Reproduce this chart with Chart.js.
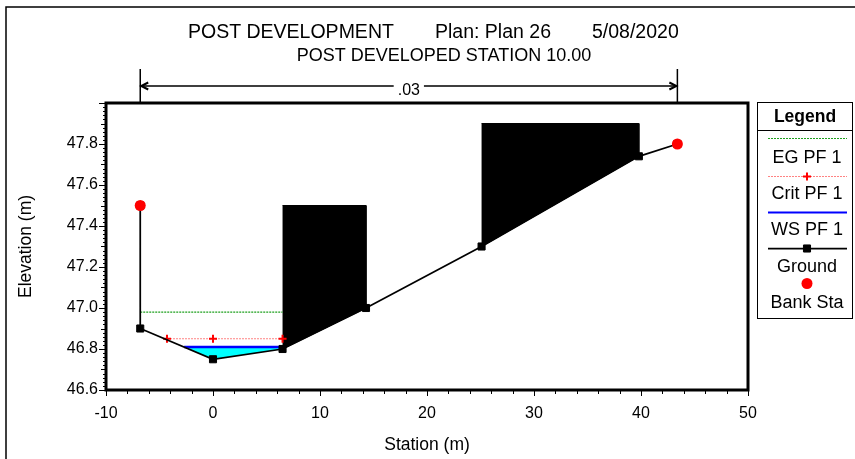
<!DOCTYPE html>
<html>
<head>
<meta charset="utf-8">
<script src="https://cdn.jsdelivr.net/npm/chart.js@4/dist/chart.umd.min.js"></script>
<style>
  html, body { margin: 0; padding: 0; background: #fff; }
  canvas { display: block; }
</style>
</head>
<body>
<canvas id="xs" width="855" height="459"></canvas>
<script>
// Ground profile of the cross section (station m, elevation m)
const groundStation = [-6.8, -6.8, 0, 6.5, 14.3, 25.1, 39.8, 43.4];
const groundElev    = [47.5, 46.9, 46.75, 46.8, 47.0, 47.3, 47.74, 47.8];

// Bank stations
const bankStation = [-6.8, 43.4];
const bankElev    = [47.5, 47.8];

// Blocked obstructions: start / end station and top elevation
const blockStart = [6.5, 25.1];
const blockEnd   = [14.3, 39.8];
const blockTop   = [47.5, 47.9];

// Profile PF 1 results
const wsStation   = [-2.7, 6.5];
const wsElev      = [46.81, 46.81];
const critStation = [-4.3, 0, 6.5];
const critElev    = [46.85, 46.85, 46.85];
const egStation   = [-6.8, 6.5];
const egElev      = [46.98, 46.98];

// Manning's n across the section
const nValue = '.03';

// Axis ranges and tick labels
const xMin = -10, xMax = 50, xStep = 10;
const yMin = 46.6, yMax = 48.0, yStep = 0.2;

const FONT = '"Liberation Sans", Arial, sans-serif';
const pts = (xs, ys) => xs.map((x, i) => ({ x, y: ys[i] }));

// ground elevation at a station (linear between surveyed points)
function groundAt(s) {
  for (let i = groundStation.length - 1; i > 0; i--) {
    const s0 = groundStation[i - 1], s1 = groundStation[i];
    if (s >= s0 && s <= s1 && s1 > s0) {
      const t = (s - s0) / (s1 - s0);
      return groundElev[i - 1] + t * (groundElev[i] - groundElev[i - 1]);
    }
  }
  return groundElev[0];
}

// closed outline: a top line from s0 to s1, back along the ground
function overGround(topXs, topYs) {
  const s0 = topXs[0], s1 = topXs[topXs.length - 1];
  const poly = pts(topXs, topYs);
  poly.push({ x: s1, y: groundAt(s1) });
  for (let i = groundStation.length - 1; i >= 0; i--) {
    if (groundStation[i] > s0 && groundStation[i] < s1) {
      poly.push({ x: groundStation[i], y: groundElev[i] });
    }
  }
  poly.push({ x: s0, y: groundAt(s0) });
  return poly;
}

const BANK = 0, GROUND = 1, CRIT = 2, EG = 3, WS = 4;

const datasets = [
  {
    label: 'Bank Sta', data: pts(bankStation, bankElev),
    showLine: false, pointStyle: 'circle', pointRadius: 5.5,
    pointBackgroundColor: '#ff0000', pointBorderColor: '#ff0000', pointBorderWidth: 0,
    borderColor: '#ff0000', backgroundColor: '#ff0000'
  },
  {
    label: 'Ground', data: pts(groundStation, groundElev),
    borderColor: '#000', borderWidth: 1.75, fill: false,
    pointStyle: 'rect', pointRadius: 5, pointBackgroundColor: '#000',
    pointBorderColor: '#000', pointBorderWidth: 1
  },
  {
    label: 'Crit PF 1', data: pts(critStation, critElev),
    borderColor: 'rgb(255,130,130)', borderWidth: 1.2, borderDash: [2, 1], fill: false,
    pointStyle: 'cross', pointRadius: 4, pointBorderColor: '#ff0000', pointBorderWidth: 2
  },
  {
    label: 'EG PF 1', data: pts(egStation, egElev),
    borderColor: 'rgb(30,160,30)', borderWidth: 1.2, borderDash: [2, 1], fill: false,
    pointRadius: 0
  },
  {
    label: 'WS PF 1', data: pts(wsStation, wsElev),
    borderColor: '#0000ff', borderWidth: 2.5, fill: false, pointRadius: 0
  },
  {
    label: 'WS PF 1 area', data: overGround(wsStation, wsElev),
    borderWidth: 0, borderColor: '#00ffff', backgroundColor: '#00ffff',
    fill: 'shape', pointRadius: 0
  }
];

// obstructions, filled from their top down to the ground line
blockStart.forEach((s, i) => {
  datasets.push({
    label: 'Obstruction ' + (i + 1),
    data: overGround([s, blockEnd[i]], [blockTop[i], blockTop[i]]),
    borderColor: '#000', borderWidth: 1, backgroundColor: '#000',
    fill: 'shape', pointRadius: 0
  });
});

const decor = {
  id: 'decor',
  afterDraw(chart) {
    const { ctx, chartArea: a, scales: { x, y } } = chart;
    const px = v => x.getPixelForValue(v);
    const py = v => y.getPixelForValue(v);
    ctx.save();
    ctx.fillStyle = '#000';
    ctx.strokeStyle = '#000';

    // outer page frame
    ctx.lineWidth = 1.5;
    ctx.beginPath();
    ctx.moveTo(6, 470); ctx.lineTo(6, 7); ctx.lineTo(870, 7);
    ctx.stroke();

    // plot frame
    ctx.lineWidth = 3;
    ctx.strokeRect(a.left, a.top, a.right - a.left, a.bottom - a.top);

    // tick marks
    ctx.lineWidth = 1;
    ctx.beginPath();
    for (let i = 0; i <= 30; i++) {
      const xx = Math.round(px(xMin + 2 * i)) + 0.5;
      const len = i % 5 === 0 ? 6 : 4;
      ctx.moveTo(xx, a.bottom); ctx.lineTo(xx, a.bottom + len);
    }
    for (let i = 0; i <= 70; i++) {
      const yy = Math.round(py(yMin + 0.02 * i)) + 0.5;
      const len = i % 10 === 0 ? 7 : (i % 5 === 0 ? 5 : 3);
      ctx.moveTo(a.left, yy); ctx.lineTo(a.left - len, yy);
    }
    ctx.stroke();

    // titles
    ctx.textBaseline = 'alphabetic';
    ctx.textAlign = 'left';
    ctx.font = '19.5px ' + FONT;
    ctx.fillText('POST DEVELOPMENT', 188, 38);
    ctx.fillText('Plan: Plan 26', 435, 38);
    ctx.fillText('5/08/2020', 592, 38);
    ctx.font = '18px ' + FONT;
    ctx.textAlign = 'center';
    ctx.fillText('POST DEVELOPED STATION 10.00', 444, 61);

    // n-value span between bank stations
    const x0 = px(bankStation[0]), x1 = px(bankStation[1]);
    const ay = 86, mid = (x0 + x1) / 2;
    ctx.font = '16px ' + FONT;
    ctx.fillText(nValue, mid, 95);
    const half = ctx.measureText(nValue).width / 2 + 4;
    ctx.lineWidth = 1.5;
    ctx.beginPath();
    ctx.moveTo(x0, 69); ctx.lineTo(x0, a.top);
    ctx.moveTo(x1, 69); ctx.lineTo(x1, a.top);
    ctx.moveTo(x0, ay); ctx.lineTo(mid - half, ay);
    ctx.moveTo(mid + half, ay); ctx.lineTo(x1, ay);
    ctx.stroke();
    ctx.lineWidth = 2;
    ctx.beginPath();
    ctx.moveTo(x0 + 8, ay - 3.5); ctx.lineTo(x0 + 1, ay); ctx.lineTo(x0 + 8, ay + 3.5);
    ctx.moveTo(x1 - 8, ay - 3.5); ctx.lineTo(x1 - 1, ay); ctx.lineTo(x1 - 8, ay + 3.5);
    ctx.stroke();

    // legend box
    const L = { l: 757, t: 102, r: 852, b: 318 };
    const cx = 807;
    ctx.lineWidth = 1;
    ctx.strokeRect(L.l + 0.5, L.t + 0.5, L.r - L.l, L.b - L.t);
    ctx.beginPath();
    ctx.moveTo(L.l, 130.5); ctx.lineTo(L.r, 130.5);
    ctx.stroke();
    ctx.textAlign = 'center';
    ctx.textBaseline = 'middle';
    ctx.font = 'bold 17.5px ' + FONT;
    ctx.fillText('Legend', 805, 117);

    const items = [
      { i: EG, lineY: 138, textY: 158 },
      { i: CRIT, lineY: 176, textY: 194 },
      { i: WS, lineY: 212, textY: 230 },
      { i: GROUND, lineY: 248, textY: 267 },
      { i: BANK, lineY: 283, textY: 303 }
    ];
    ctx.font = '18px ' + FONT;
    items.forEach(it => {
      const ds = chart.data.datasets[it.i];
      if (ds.showLine !== false) {
        ctx.save();
        ctx.strokeStyle = ds.borderColor;
        ctx.lineWidth = Math.min(ds.borderWidth, 2);
        ctx.setLineDash(ds.borderDash || []);
        ctx.beginPath();
        ctx.moveTo(768, it.lineY + 0.5); ctx.lineTo(847, it.lineY + 0.5);
        ctx.stroke();
        ctx.restore();
      }
      if (ds.pointRadius > 0) {
        ctx.save();
        ctx.fillStyle = ds.pointBackgroundColor || ds.pointBorderColor;
        ctx.strokeStyle = ds.pointBorderColor;
        ctx.lineWidth = ds.pointBorderWidth;
        Chart.helpers.drawPoint(ctx, {
          pointStyle: ds.pointStyle, radius: ds.pointRadius,
          rotation: 0, borderWidth: ds.pointBorderWidth
        }, cx, it.lineY + 0.5);
        ctx.restore();
      }
      ctx.fillStyle = '#000';
      ctx.fillText(ds.label, cx, it.textY);
    });
    ctx.restore();
  }
};

new Chart(document.getElementById('xs'), {
  type: 'line',
  data: { datasets },
  options: {
    responsive: false,
    animation: false,
    devicePixelRatio: 1,
    layout: { padding: { top: 103, right: 107, left: 0, bottom: 0 } },
    plugins: {
      legend: { display: false },
      title: { display: false },
      tooltip: { enabled: false }
    },
    elements: { line: { tension: 0 } },
    scales: {
      x: {
        type: 'linear', min: xMin, max: xMax,
        afterFit(s) { s.height = 69; },
        grid: { display: false, drawTicks: false },
        border: { display: false },
        ticks: {
          stepSize: xStep, padding: 14, maxRotation: 0, color: '#000',
          font: { family: FONT, size: 16 },
          callback: v => String(v)
        },
        title: {
          display: true, text: 'Station (m)', color: '#000',
          font: { family: FONT, size: 17.5 }, padding: { top: 0, bottom: 3 }
        }
      },
      y: {
        type: 'linear', min: yMin, max: yMax,
        afterFit(s) { s.width = 106; },
        grid: { display: false, drawTicks: false },
        border: { display: false },
        ticks: {
          stepSize: yStep, padding: 8, color: '#000',
          font: { family: FONT, size: 16 },
          callback: v => (Math.abs(v - yMax) < 1e-6 ? '' : Number(v).toFixed(1))
        },
        title: {
          display: true, text: 'Elevation (m)', color: '#000',
          font: { family: FONT, size: 17.5 }, padding: { top: 16, bottom: 0 }
        }
      }
    }
  },
  plugins: [decor]
});
</script>
</body>
</html>
